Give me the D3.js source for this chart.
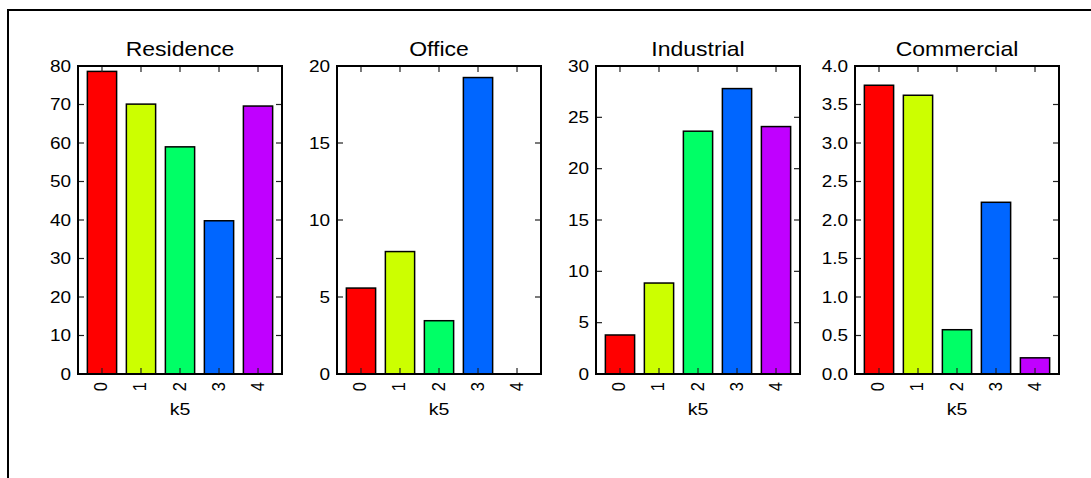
<!DOCTYPE html>
<html><head><meta charset="utf-8">
<script src="https://cdn.jsdelivr.net/npm/d3@7"></script>
<style>body{margin:0;background:#fff}svg{display:block}text{font-family:"Liberation Sans",Arial,sans-serif;fill:#000}</style>
</head><body><svg id="c" width="1091" height="478"></svg>
<script>
const categories = ["0","1","2","3","4"];
const titles = ["Residence","Office","Industrial","Commercial"];
const residence = [78.6, 70.1, 59.0, 39.8, 69.6];
const office = [5.58, 7.95, 3.46, 19.25, 0.0];
const industrial = [3.8, 8.86, 23.65, 27.8, 24.1];
const commercial = [3.75, 3.62, 0.575, 2.23, 0.21];
const yMax = [80, 20, 30, 4.0];
const yTicks = [[0,10,20,30,40,50,60,70,80],[0,5,10,15,20],[0,5,10,15,20,25,30],[0,0.5,1,1.5,2,2.5,3,3.5,4]];
const yFormat = [d3.format("d"), d3.format("d"), d3.format("d"), d3.format(".1f")];
const colors = ["#ff0000","#ccff00","#00ff66","#0066ff","#c000ff"];
const xLabel = "k5";
const series = [residence, office, industrial, commercial];

const SX = 1.15;
const svg = d3.select("#c");
svg.append("line").attr("x1",8).attr("x2",1091).attr("y1",10).attr("y2",10).attr("stroke","#000").attr("stroke-width",2);
svg.append("line").attr("x1",8).attr("x2",8).attr("y1",9).attr("y2",478).attr("stroke","#000").attr("stroke-width",2);

const lefts = [78, 337, 596, 855];
const W = 204, yTop = 66, yBot = 374;
series.forEach((vals, i) => {
  const g = svg.append("g").attr("transform", `translate(${lefts[i]},0)`);
  const x = d3.scaleLinear().domain([-0.615, 4.615]).range([0, W]);
  const y = d3.scaleLinear().domain([0, yMax[i]]).range([yBot, yTop]);
  const bw = x(0.375) - x(-0.375);
  g.selectAll("rect.bar").data(vals).join("rect").attr("class","bar")
    .attr("x", (d,j) => x(j) - bw/2).attr("width", bw)
    .attr("y", d => y(d)).attr("height", d => y(0) - y(d))
    .attr("fill", (d,j) => colors[j]).attr("stroke","#000").attr("stroke-width",1.5);
  const tl = 6;
  const tg = g.append("g").attr("stroke","#222").attr("stroke-width",1.2);
  categories.forEach((c,j) => {
    tg.append("line").attr("x1",x(j)).attr("x2",x(j)).attr("y1",yBot).attr("y2",yBot-tl);
    tg.append("line").attr("x1",x(j)).attr("x2",x(j)).attr("y1",yTop).attr("y2",yTop+tl);
  });
  yTicks[i].forEach(t => {
    tg.append("line").attr("x1",0).attr("x2",tl).attr("y1",y(t)).attr("y2",y(t));
    tg.append("line").attr("x1",W).attr("x2",W-tl).attr("y1",y(t)).attr("y2",y(t));
  });
  g.append("rect").attr("x",0).attr("y",yTop).attr("width",W).attr("height",yBot-yTop)
    .attr("fill","none").attr("stroke","#000").attr("stroke-width",2);
  yTicks[i].forEach(t => {
    g.append("text").attr("transform",`translate(-7,${y(t)}) scale(${SX},1)`).attr("dy","0.35em").attr("text-anchor","end")
      .attr("font-size",16.5).text(yFormat[i](t));
  });
  categories.forEach((c,j) => {
    g.append("text").attr("transform",`translate(${x(j)+5.5},${yBot+8}) scale(${SX},1) rotate(-90)`)
      .attr("text-anchor","end").attr("font-size",16.5).text(c);
  });
  g.append("text").attr("transform",`translate(${W/2},415) scale(${SX},1)`).attr("text-anchor","middle").attr("font-size",17).text(xLabel);
  g.append("text").attr("transform",`translate(${W/2},56) scale(${SX},1)`).attr("text-anchor","middle").attr("font-size",20).text(titles[i]);
});
</script></body></html>
